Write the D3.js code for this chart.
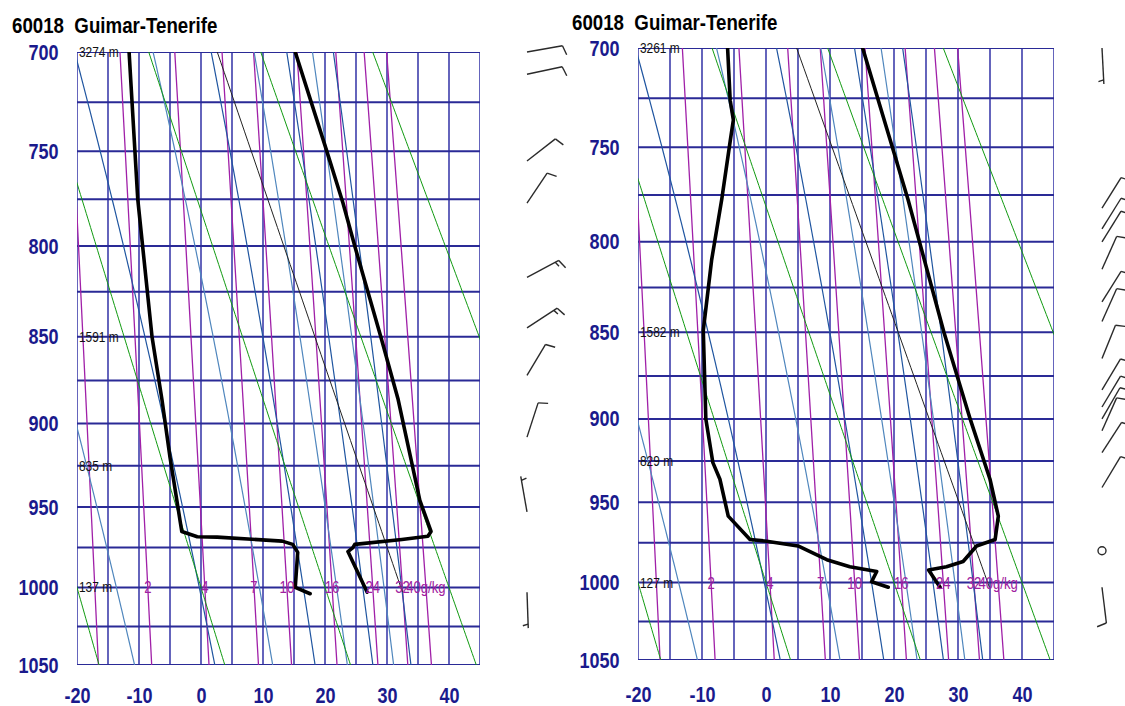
<!DOCTYPE html>
<html>
<head>
<meta charset="utf-8">
<script src="https://cdn.jsdelivr.net/npm/d3@7"></script>
<style>
  body { margin: 0; background: #fff; }
  svg { display: block; }
</style>
</head>
<body>
<svg width="1125" height="706"></svg>
<script>
// ---- chart data ----
var stationTitle = "60018  Guimar-Tenerife";
var tempTicks = [-20, -10, 0, 10, 20, 30, 40];
var presTicks = [700, 750, 800, 850, 900, 950, 1000, 1050];
var dryTheta = [253.15, 273.15, 293.15, 313.15, 333.15, 353.15];          // K
var moistThetaE = [263.15, 283.15, 303.15, 323.15, 343.15, 363.15, 383.15, 403.15]; // K
var mixRatios = [1, 2, 4, 7, 10, 16, 24, 32, 40];                       // g/kg
var mixLabels = ["", "2", "4", "7", "10", "16", "24", "32", "40g/kg"];

// left sounding: [pressure hPa, value degC]
var tempA = [[700, 15.2], [750, 20.3], [777, 22.9], [800, 24.8], [850, 29.0], [886, 31.8], [946, 35.3],
  [965, 37.1], [968, 36.6], [970, 32.4], [973, 24.8], [975, 24.5], [977.5, 23.7], [1003, 26.8]];
var dewA = [[700, -11.6], [775, -10.2], [850, -7.9], [886, -6.3], [920, -5.0], [965, -3.1], [968.3, -0.6],
  [968.5, 2.6], [971, 13.1], [973, 14.8], [978, 15.6], [1000, 15.2], [1004, 17.6]];
var parcelA = [1003, 32.5];
var heightsA = [[700, "3274 m"], [850, "1591 m"], [925, "835 m"], [1000, "137 m"]];
// winds: [pressure, direction deg, speed kt]
var windA = [[700, 80, 10], [711, 78, 10], [755, 52, 10], [777, 34, 10], [817, 62, 15], [845, 57, 15],
  [872, 31, 10], [908, 18, 10], [953, 350, 5], [1003, 178, 5]];

// right sounding
var tempB = [[700, 15.1], [777.5, 22.2], [850, 27.8], [900, 31.9], [936, 35.0], [958.5, 36.3], [973, 35.8],
  [977, 32.9], [986.7, 30.8], [990, 28.2], [992, 25.4], [1003, 27.2]];
var dewB = [[700, -6.0], [726, -5.6], [736, -5.1], [747, -5.6], [777, -6.9], [810, -8.5], [849, -9.8],
  [900, -9.4], [926, -8.3], [936, -7.2], [958.5, -5.9], [973, -2.5], [974, 0.1], [977, 5.0], [985.6, 9.5],
  [990, 13.1], [993, 17.3], [999.5, 16.5], [1003, 19.1]];
var parcelB = [1003, 34.9];
var heightsB = [[700, "3261 m"], [850, "1582 m"], [925, "829 m"], [1000, "127 m"]];
var windB = [[700, 177, 5], [782, 32, 10], [793, 32, 10], [800, 32, 10], [815, 24, 10], [833, 32, 10],
  [844, 24, 10], [865, 22, 10], [883, 31, 10], [893, 31, 10], [900, 30, 10], [907, 24, 10],
  [920, 33, 10], [941, 31, 10], [980, 0, 0], [1003, 173, 10]];

// ---- physics helpers ----
var kappa = 0.286;
function dryT(theta, p) { return theta * Math.pow(p / 1000, kappa) - 273.15; }
function mixTd(w, p) {
  var e = w * p / (622 + w);
  var l = Math.log(e / 6.112);
  return 243.5 * l / (17.67 - l);
}
function thetaE(tc, p) {
  var T = tc + 273.15;
  var es = 6.112 * Math.exp(17.67 * tc / (tc + 243.5));
  var r = 622 * es / (p - es);
  return T * Math.pow(1000 / p, 0.2854 * (1 - 0.00028 * r)) *
    Math.exp((3.376 / T - 0.00254) * r * (1 + 0.00081 * r));
}
function moistT(the, p) {
  var lo = -90, hi = 60;
  for (var i = 0; i < 50; i++) {
    var mid = (lo + hi) / 2;
    if (thetaE(mid, p) < the) lo = mid; else hi = mid;
  }
  return (lo + hi) / 2;
}

var svg = d3.select("svg");
var font = "'Liberation Sans', Arial, sans-serif";
var navy = "#1a1a8c";

var panels = [
  {id: "a", x0: 77, x1: 480, y0: 52, y1: 665, tx: 12, ty: 33, barbX: 527, xPad: 22.5,
    temp: tempA, dew: dewA, parcel: parcelA, heights: heightsA, wind: windA},
  {id: "b", x0: 638, x1: 1054, y0: 48, y1: 660, tx: 572, ty: 30, barbX: 1102, xPad: 26,
    temp: tempB, dew: dewB, parcel: parcelB, heights: heightsB, wind: windB}
];

panels.forEach(function(c) {
  var x = d3.scaleLinear().domain([-20, 45]).range([c.x0, c.x1]);
  var y = d3.scalePow().exponent(kappa).domain([700, 1050]).range([c.y0, c.y1]);
  var pres = d3.range(700, 1050.1, 2.5);

  svg.append("clipPath").attr("id", "clip-" + c.id)
    .append("rect").attr("x", c.x0).attr("y", c.y0)
    .attr("width", c.x1 - c.x0).attr("height", c.y1 - c.y0);

  var g = svg.append("g");
  var plot = g.append("g").attr("clip-path", "url(#clip-" + c.id + ")");

  // grid
  plot.selectAll(".vg").data(d3.range(-20, 45.1, 5)).enter().append("line")
    .attr("x1", function(d) { return x(d); }).attr("x2", function(d) { return x(d); })
    .attr("y1", c.y0).attr("y2", c.y1)
    .style("stroke", "#2323a0").style("stroke-width", 1.4);
  plot.selectAll(".hg").data(d3.range(700, 1050.1, 25)).enter().append("line")
    .attr("x1", c.x0).attr("x2", c.x1)
    .attr("y1", function(d) { return y(d); }).attr("y2", function(d) { return y(d); })
    .style("stroke", "#2a2a96").style("stroke-width", 2);

  var line = d3.line().x(function(d) { return x(d[1]); }).y(function(d) { return y(d[0]); });

  // mixing ratio lines
  plot.selectAll(".mix").data(mixRatios).enter().append("path")
    .attr("d", function(w) { return line(pres.map(function(p) { return [p, mixTd(w, p)]; })); })
    .style("fill", "none").style("stroke", "#a020a8").style("stroke-width", 1.3);

  // moist adiabats
  plot.selectAll(".moist").data(moistThetaE).enter().append("path")
    .attr("d", function(th) { return line(pres.map(function(p) { return [p, moistT(th, p)]; })); })
    .style("fill", "none").style("stroke", function(d, i) { return i % 2 ? "#1f55a0" : "#4f86bd"; })
    .style("stroke-width", 1.2);

  // dry adiabats
  plot.selectAll(".dry").data(dryTheta).enter().append("path")
    .attr("d", function(th) { return line(pres.map(function(p) { return [p, dryT(th, p)]; })); })
    .style("fill", "none").style("stroke", "#109a10").style("stroke-width", 1);

  // thin parcel line (dry adiabat from surface)
  var thP = (c.parcel[1] + 273.15) * Math.pow(1000 / c.parcel[0], kappa);
  plot.append("path")
    .attr("d", line(d3.range(700, c.parcel[0] + 0.1, 5).concat([c.parcel[0]])
      .map(function(p) { return [p, dryT(thP, p)]; })))
    .style("fill", "none").style("stroke", "#222").style("stroke-width", 1);

  // sounding
  [c.temp, c.dew].forEach(function(s) {
    plot.append("path").attr("d", line(s))
      .style("fill", "none").style("stroke", "#000").style("stroke-width", 3.6)
      .style("stroke-linejoin", "round").style("stroke-linecap", "round");
  });

  // mixing ratio labels at 1000 hPa
  g.selectAll(".mixlab").data(mixRatios).enter().append("text")
    .attr("transform", function(w) { return "translate(" + x(mixTd(w, 1000)) + "," + (y(1000) + 6) + ") scale(0.82,1)"; })
    .attr("text-anchor", "middle")
    .style("font-family", font).style("font-size", "16px").style("fill", "#a020a0")
    .text(function(d, i) { return mixLabels[i]; });

  // height labels
  g.selectAll(".hl").data(c.heights).enter().append("text")
    .attr("transform", function(d) { return "translate(" + (c.x0 + 2) + "," + (y(d[0]) + 5) + ") scale(0.85,1)"; })
    .style("font-family", font).style("font-size", "14px").style("fill", "#111")
    .text(function(d) { return d[1]; });

  // axes
  var fmt = function(d) { return String(d); };
  var ax = g.append("g").attr("transform", "translate(" + c.x0 + ",0)")
    .call(d3.axisLeft(y).tickValues(presTicks).tickFormat(fmt).tickSize(0).tickPadding(22.5));
  var bx = g.append("g").attr("transform", "translate(0," + c.y1 + ")")
    .call(d3.axisBottom(x).tickValues(tempTicks).tickFormat(fmt).tickSize(0).tickPadding(c.xPad));
  [ax, bx].forEach(function(a) {
    a.select(".domain").remove();
    a.selectAll("text").attr("transform", "scale(0.82,1)")
      .style("font-family", font).style("font-size", "22px").style("font-weight", "bold")
      .style("fill", navy);
  });

  // title
  g.append("text").attr("transform", "translate(" + c.tx + "," + c.ty + ") scale(0.85,1)")
    .style("font-family", font).style("font-size", "22px").style("font-weight", "bold")
    .style("fill", "#000").style("white-space", "pre").attr("xml:space", "preserve")
    .text(stationTitle);

  // wind barbs
  var wg = g.append("g").style("stroke", "#2a2a2a").style("stroke-width", 1.4).style("fill", "none");
  c.wind.forEach(function(w) {
    var sx = c.barbX, sy = y(w[0]);
    if (w[2] === 0) {
      wg.append("circle").attr("cx", sx).attr("cy", sy).attr("r", 4);
      return;
    }
    var a = w[1] * Math.PI / 180, L = 36;
    var ux = Math.sin(a), uy = -Math.cos(a);
    var px = -uy, py = ux;
    var tilt = 15 * Math.PI / 180;
    var bxv = px * Math.cos(tilt) + ux * Math.sin(tilt), byv = py * Math.cos(tilt) + uy * Math.sin(tilt);
    wg.append("line").attr("x1", sx).attr("y1", sy).attr("x2", sx + ux * L).attr("y2", sy + uy * L);
    var s = w[2], pos = L;
    if (s < 10) pos -= 4;
    while (s >= 10) {
      var b0x = sx + ux * pos, b0y = sy + uy * pos;
      wg.append("line").attr("x1", b0x).attr("y1", b0y).attr("x2", b0x + bxv * 10).attr("y2", b0y + byv * 10);
      s -= 10; pos -= 4;
    }
    if (s >= 5) {
      var h0x = sx + ux * pos, h0y = sy + uy * pos;
      wg.append("line").attr("x1", h0x).attr("y1", h0y).attr("x2", h0x + bxv * 5.5).attr("y2", h0y + byv * 5.5);
    }
  });
});
</script>
</body>
</html>
